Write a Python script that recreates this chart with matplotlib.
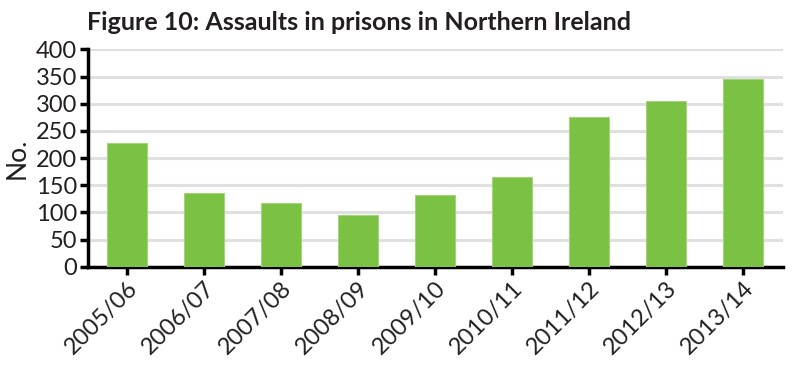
import matplotlib.pyplot as plt

# donnees
annees = ["2005/06", "2006/07", "2007/08", "2008/09", "2009/10",
          "2010/11", "2011/12", "2012/13", "2013/14"]
agressions = [228, 136, 117, 95, 132, 165, 275, 305, 346]
graduations = [0, 50, 100, 150, 200, 250, 300, 350, 400]

plt.rcParams['font.family'] = ['Lato', 'DejaVu Sans']
texte = '#231f20'

fig = plt.figure(figsize=(8, 3.88), dpi=100)
ax = fig.add_axes([0.11, 0.3126, 0.869, 0.56])

x = range(len(annees))
ax.bar(x, agressions, width=0.52, color='#7bc143', edgecolor='#a3d47a',
       linewidth=0.8, zorder=3)

ax.set_xlim(-0.506, 8.52)
ax.set_ylim(0, 400)
ax.set_yticks(graduations)
ax.set_yticklabels([str(g) for g in graduations], fontsize=17, color=texte)
ax.set_xticks(list(x))
ax.set_xticklabels(annees, rotation=45, ha='right', rotation_mode='anchor',
                   fontsize=17, color=texte)

ax.grid(axis='y', color='#e0e0e0', linewidth=2.2, zorder=0)
for cote in ['top', 'right']:
    ax.spines[cote].set_visible(False)
for cote in ['left', 'bottom']:
    ax.spines[cote].set_linewidth(2.5)
    ax.spines[cote].set_color('black')
ax.tick_params(axis='both', width=2.5, length=6, pad=2)

ax.set_ylabel("No.", fontsize=19, color=texte, labelpad=4)
fig.text(0.109, 0.922, "Figure 10: Assaults in prisons in Northern Ireland",
         fontsize=18, fontweight='bold', color=texte, va='baseline')

fig.savefig("out.png", dpi=100)
